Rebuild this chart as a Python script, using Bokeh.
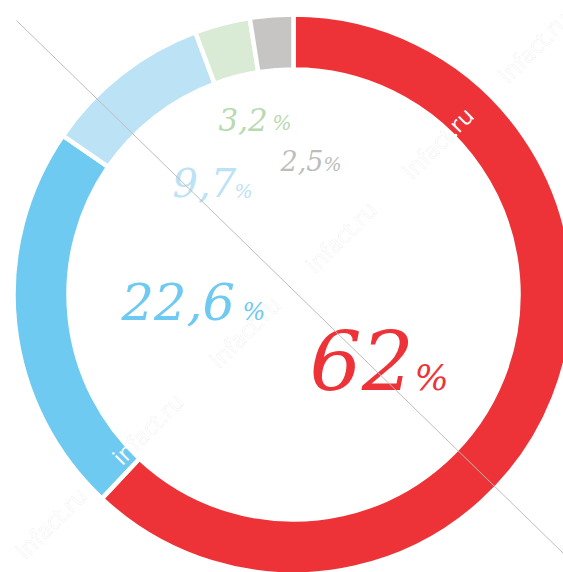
import math
from bokeh.plotting import figure
from bokeh.models import Range1d, ColumnDataSource
from bokeh.core.properties import value
from bokeh.embed import file_html
from bokeh.resources import INLINE

# ---- data ----
shares = [62.0, 22.6, 9.7, 3.2, 2.5]
numbers = ["62", "22,6", "9,7", "3,2", "2,5"]
colors = ["#EE3338", "#6FCAF1", "#BCE2F6", "#D9EAD5", "#C6C5C4"]
text_colors = ["#EE3338", "#6FCAF1", "#BCE2F6", "#B9DAAE", "#BDBDBD"]
watermark = "infact.ru"

# ---- layout (pixel-like data coordinates, y up = -screen y) ----
W, H = 563, 572
cx, cy = 293, -294
r_in, r_out = 225, 280

# label placements (left x, baseline y in screen px) and font sizes
num_x = [309, 121, 172, 218, 280]
base_y = [390, 320, 197, 130, 170]
num_size = [82, 51, 40, 31, 27]
pct_x = [414, 242, 234, 272, 323]
pct_size = [36, 24, 19, 20, 19]
BASE_SHIFT = 0.365  # em offset of rendered baseline

wm_x = [533, 437, 340, 244, 147, 50]
wm_y = [-46, -142, -236, -331, -428, -522]

p = figure(width=W, height=H, output_backend="svg", toolbar_location=None,
           x_range=Range1d(0, W), y_range=Range1d(-H, 0),
           min_border=0, outline_line_color=None, background_fill_color="white",
           border_fill_color="white")
p.axis.visible = False
p.grid.visible = False

# angles (clockwise from 12 o'clock)
starts, ends = [], []
acc = 0.0
total = sum(shares)
for s in shares:
    a0 = math.pi / 2 - 2 * math.pi * acc / total
    acc += s
    a1 = math.pi / 2 - 2 * math.pi * acc / total
    starts.append(a0)
    ends.append(a1)

wm_src = ColumnDataSource(dict(x=wm_x, y=wm_y, t=[watermark] * len(wm_x)))

# watermark below ring (gray)
p.text(x="x", y="y", text="t", source=wm_src, angle=math.pi / 4,
       text_align="center", text_baseline="middle",
       text_font=value("Open Sans"), text_font_size="23px",
       text_color="#d6d6d6")

ring = ColumnDataSource(dict(start=starts, end=ends, color=colors))
p.annular_wedge(x=cx, y=cy, inner_radius=r_in, outer_radius=r_out,
                start_angle="start", end_angle="end", direction="clock",
                fill_color="color", line_color="white", line_width=4.5,
                source=ring)

# watermark above ring (white)
p.text(x="x", y="y", text="t", source=wm_src, angle=math.pi / 4,
       text_align="center", text_baseline="middle",
       text_font=value("Open Sans"), text_font_size="23px",
       text_color="white")

# labels
for i in range(len(numbers)):
    ny = -(base_y[i] - BASE_SHIFT * num_size[i])
    py = -(base_y[i] - BASE_SHIFT * pct_size[i])
    p.text(x=[num_x[i]], y=[ny], text=[numbers[i]],
           text_font=value("DejaVu Serif"), text_font_style="italic",
           text_font_size=f"{num_size[i]}px", text_color=text_colors[i],
           text_align="left", text_baseline="alphabetic")
    p.text(x=[pct_x[i]], y=[py], text=["%"],
           text_font=value("DejaVu Serif"), text_font_style="italic",
           text_font_size=f"{pct_size[i]}px", text_color=text_colors[i],
           text_align="left", text_baseline="alphabetic")

# thin diagonal line
p.line(x=[16, 563], y=[-20, -553], line_color="#bdbdbd", line_width=1)

open("out.html", "w").write(file_html(p, INLINE))
